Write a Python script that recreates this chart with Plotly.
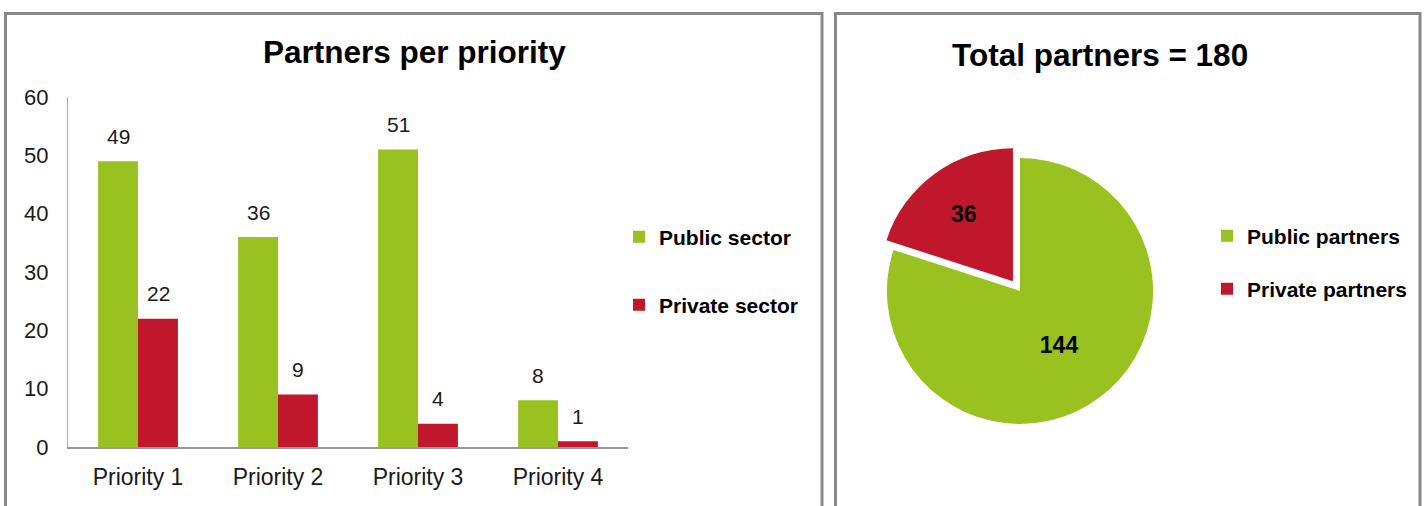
import plotly.graph_objects as go

# ---- data ----
categories = ["Priority 1", "Priority 2", "Priority 3", "Priority 4"]
public_sector = [49, 36, 51, 8]
private_sector = [22, 9, 4, 1]
pie_labels = ["Public partners", "Private partners"]
pie_values = [144, 36]
bar_title = "Partners per priority"
pie_title = "Total partners = 180"

GREEN = "#99C221"
RED = "#C0172C"
FONT = "Liberation Sans, Arial, sans-serif"
W, H = 1425, 506

def px(x):
    return x / W

def py(y):
    return 1 - y / H

fig = go.Figure()

fig.add_trace(go.Bar(
    x=categories, y=public_sector, name="Public sector",
    marker=dict(color=GREEN, line=dict(width=0)), legend="legend",
    showlegend=True,
))
fig.add_trace(go.Bar(
    x=categories, y=private_sector, name="Private sector",
    marker=dict(color=RED, line=dict(width=0)), legend="legend2",
    showlegend=True,
))

fig.add_trace(go.Pie(
    labels=pie_labels, values=pie_values,
    marker=dict(colors=[GREEN, RED], line=dict(width=0)),
    sort=False, direction="clockwise", rotation=0,
    pull=[0, 0.09],
    textinfo="value", textposition="inside",
    insidetextorientation="horizontal",
    textfont=dict(family=FONT, size=23, color="black", weight="bold"),
    domain=dict(x=[px(875), px(1165)], y=[py(436), py(146)]),
    showlegend=False,
))

# legend entries for the pie (one legend each so the spacing can match)
for lab, col, lg in zip(pie_labels, [GREEN, RED], ["legend3", "legend4"]):
    fig.add_trace(go.Scatter(
        x=[None], y=[None], mode="markers", name=lab,
        marker=dict(symbol="square", size=12, color=col),
        xaxis="x2", yaxis="y2", legend=lg, showlegend=True,
        hoverinfo="skip",
    ))

annotations = []
# data labels above the bars
for vals, shift in ((public_sector, -20), (private_sector, 20)):
    for c, v in zip(categories, vals):
        annotations.append(dict(
            x=c, y=v, xref="x", yref="y", text=str(v), showarrow=False,
            xshift=shift, yshift=25, yanchor="middle",
            font=dict(family=FONT, size=21, color="#1a1a1a"),
        ))
annotations.append(dict(
    x=px(414), y=py(52), xref="paper", yref="paper", text=bar_title,
    showarrow=False, xanchor="center", yanchor="middle",
    font=dict(family=FONT, size=31.5, color="black", weight="bold"),
))
annotations.append(dict(
    x=px(1100), y=py(55), xref="paper", yref="paper", text=pie_title,
    showarrow=False, xanchor="center", yanchor="middle",
    font=dict(family=FONT, size=31.5, color="black", weight="bold"),
))

shapes = [
    dict(type="rect", xref="paper", yref="paper",
         x0=px(5.5), x1=px(822), y0=py(530), y1=py(13.5),
         line=dict(color="#888888", width=3)),
    dict(type="rect", xref="paper", yref="paper",
         x0=px(835.5), x1=px(1420), y0=py(530), y1=py(13.5),
         line=dict(color="#888888", width=3)),
]

legend_font = dict(family=FONT, size=21, color="black", weight="bold")

def leg(x, y):
    return dict(x=px(x), y=py(y), xanchor="left", yanchor="middle",
                font=legend_font, bgcolor="rgba(0,0,0,0)",
                itemwidth=30, visible=True)

fig.update_layout(
    width=W, height=H,
    margin=dict(l=0, r=0, t=0, b=0, autoexpand=False),
    paper_bgcolor="white", plot_bgcolor="white",
    font=dict(family=FONT),
    showlegend=True,
    barmode="group", bargap=0.43, bargroupgap=0,
    xaxis=dict(domain=[px(68), px(628)], showgrid=False, zeroline=False,
               showline=True, linecolor="#999999", linewidth=2,
               ticks="", ticklabelstandoff=8, automargin=False,
               tickfont=dict(family=FONT, size=23, color="#1a1a1a")),
    yaxis=dict(domain=[py(447), py(97)], range=[0, 60], dtick=10,
               showgrid=False, zeroline=False,
               showline=True, linecolor="#aaaaaa", linewidth=1,
               ticks="", ticklabelstandoff=14, automargin=False,
               tickfont=dict(family=FONT, size=22, color="#1a1a1a")),
    xaxis2=dict(domain=[0.99, 1.0], visible=False, anchor="y2", automargin=False),
    yaxis2=dict(domain=[0.0, 0.01], visible=False, anchor="x2", automargin=False),
    legend=leg(619, 237),
    legend2=leg(619, 305),
    legend3=leg(1207, 236),
    legend4=leg(1207, 289),
    annotations=annotations,
    shapes=shapes,
)

post = (
    "document.documentElement.style.overflow='hidden';"
    "document.body.style.margin='0';"
    "document.body.style.overflow='hidden';"
)

fig.write_html(
    "out.html",
    config={"displayModeBar": False},
    post_script=post,
)
